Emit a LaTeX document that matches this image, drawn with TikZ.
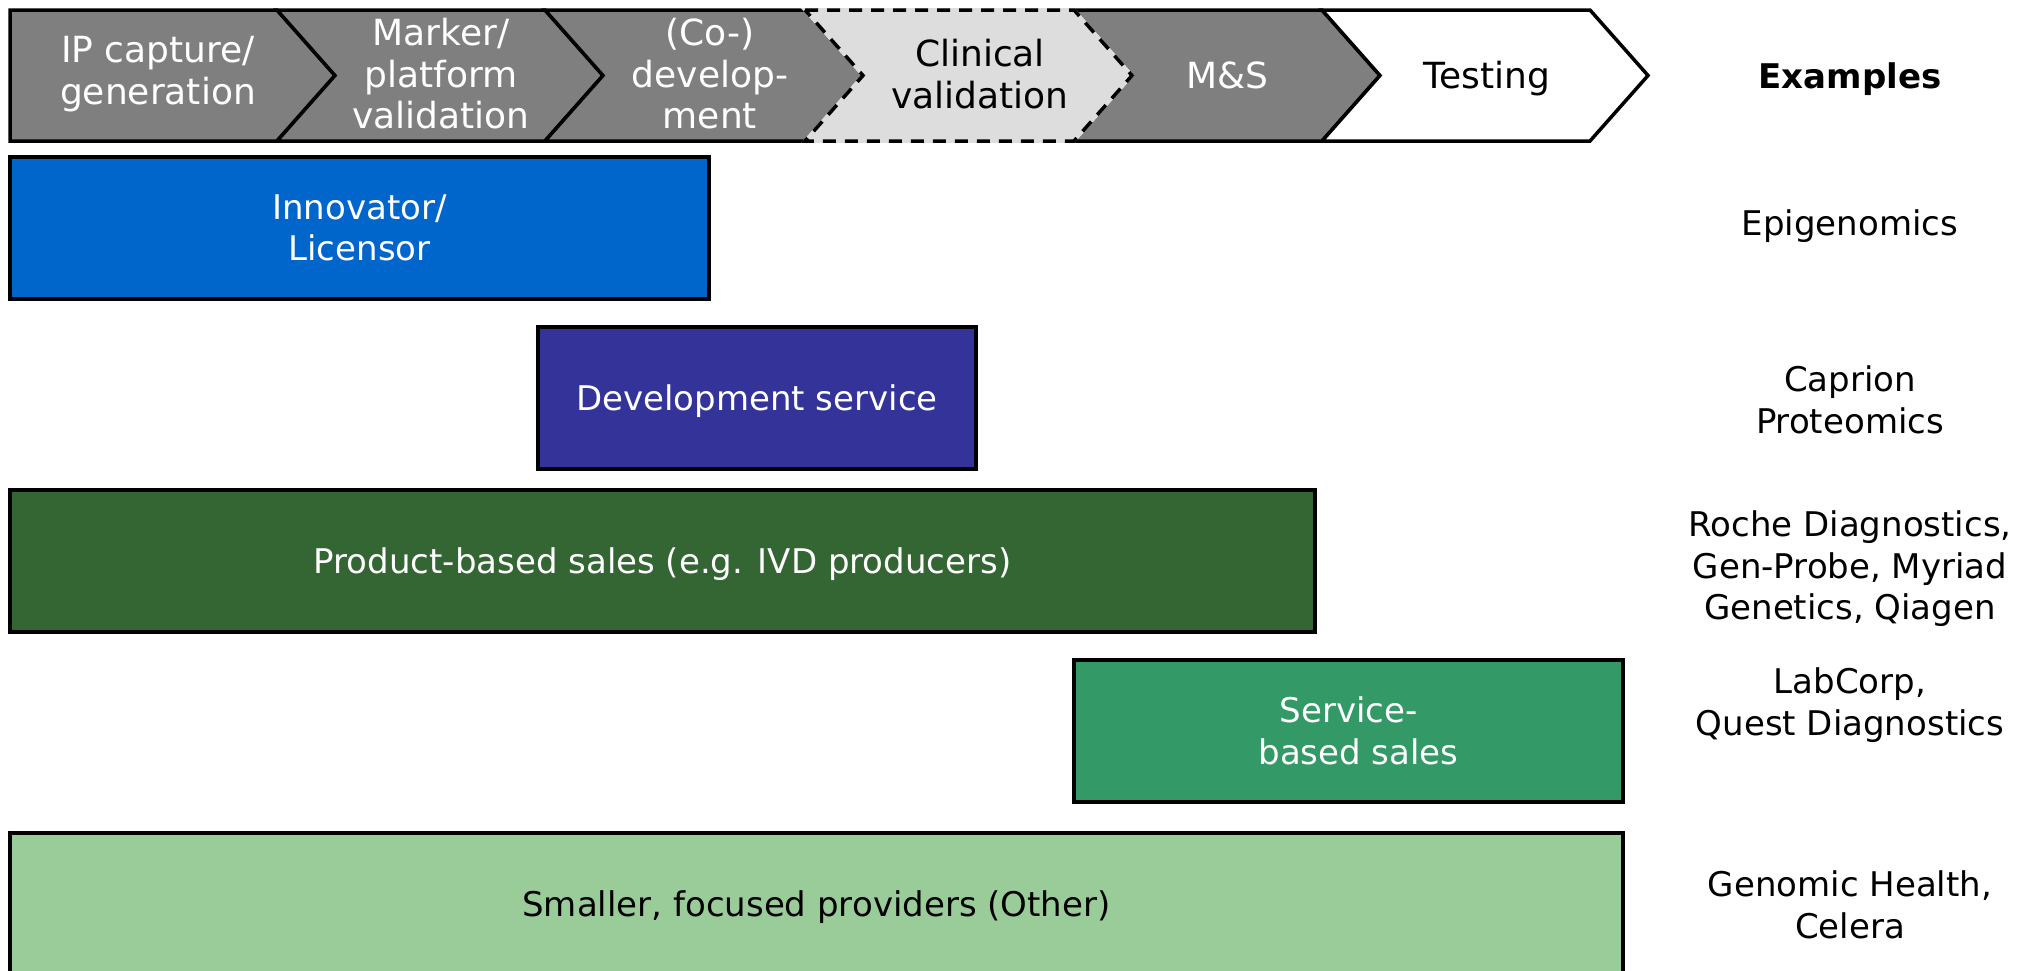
\documentclass[tikz,border=0pt]{standalone}
\usepackage{fontspec}
\setmainfont{DejaVu Sans}
\definecolor{stagegrey}{HTML}{7F7F7F}
\definecolor{stagelight}{HTML}{DDDDDD}
\definecolor{innoblue}{HTML}{0066CC}
\definecolor{devindigo}{HTML}{333399}
\definecolor{proddark}{HTML}{336633}
\definecolor{servgreen}{HTML}{339966}
\definecolor{smalllight}{HTML}{99CC99}
% one process stage: back x, front x, style
\newcommand\stagechev[3]{%
  \filldraw[#3] (#1,10) -- (#2,10) -- ({#2+58},75.5) -- (#2,141) -- (#1,141) -- ({#1+58},75.5) -- cycle;}
\begin{document}
\begin{tikzpicture}[x=0.5pt,y=-0.5pt,
  every node/.style={font=\fontsize{17}{20.75}\selectfont, align=center, inner sep=0pt},
  stagegray/.style={fill=stagegrey, draw=black, line width=1.75pt, line join=miter},
  stagelabel/.style={font=\fontsize{18}{20.75}\selectfont},
  stagetxt/.style={stagelabel, text=white},
  rolebox/.style={draw=black, line width=2pt, minimum height=71pt},
  oneline/.style={text height=14pt, text depth=1.5pt},
  example/.style={text=black}]
\useasboundingbox (0,0) rectangle (2036,970);
\clip (0,0) rectangle (2036,970);

% value chain stages
\filldraw[stagegray] (10,10) -- (277,10) -- (335,75.5) -- (277,141) -- (10,141) -- cycle;
\stagechev{277}{545}{stagegray}
\stagechev{545}{805}{stagegray}
\stagechev{1074}{1322}{stagegray}
\stagechev{1322}{1590}{fill=white, draw=black, line width=1.75pt, line join=miter}
% clinical validation stage, dashed outline
\stagechev{805}{1074}{fill=stagelight, draw=stagelight, line width=1.8pt}
\stagechev{805}{1074}{fill=stagelight, draw=black, line width=1.75pt, dash pattern=on 6.5pt off 4.5pt}

\node[stagetxt] (s1) at (158,74) {IP capture/\\generation};
\node[stagetxt] (s2) at (441,74) {Marker/\\platform\\validation};
\node[stagetxt] (s3) at (710,74) {(Co-)\\develop-\\ment};
\node[stagelabel] (s4) at (980,74) {Clinical\\validation};
\node[stagetxt] (s5) at (1227,75) {M\&S};
\node[stagelabel] (s6) at (1487,79) {Testing};
\node[font=\fontsize{17}{20.75}\selectfont\bfseries] (exh) at (1850,79) {Examples};

% business model boxes
\node[rolebox, fill=innoblue, text=white, minimum width=349.5pt] (inno) at (359.5,228) {Innovator/\\Licensor};
\node[rolebox, oneline, fill=devindigo, text=white, minimum width=219pt] (dev) at (757,398) {Development service};
\node[rolebox, oneline, fill=proddark, text=white, minimum width=652.5pt] (prod) at (662.5,561) {Product-based sales (e.g. IVD producers)};
\node[rolebox, fill=servgreen, text=white, minimum width=274.5pt] (serv) at (1348.5,731) {Service-\\\hphantom{x}based sales};
\node[rolebox, oneline, fill=smalllight, text=black, minimum width=806.5pt] (small) at (816.5,904) {Smaller, focused providers (Other)};

% examples
\node[example] (ex1) at (1850,226) {Epigenomics};
\node[example] (ex2) at (1850,400) {Caprion\\Proteomics};
\node[example] (ex3) at (1850,569) {Roche Diagnostics,\\Gen-Probe, Myriad\\Genetics, Qiagen};
\node[example] (ex4) at (1850,705) {LabCorp,\\Quest Diagnostics};
\node[example] (ex5) at (1850,905) {Genomic Health,\\Celera};
\end{tikzpicture}
\end{document}
